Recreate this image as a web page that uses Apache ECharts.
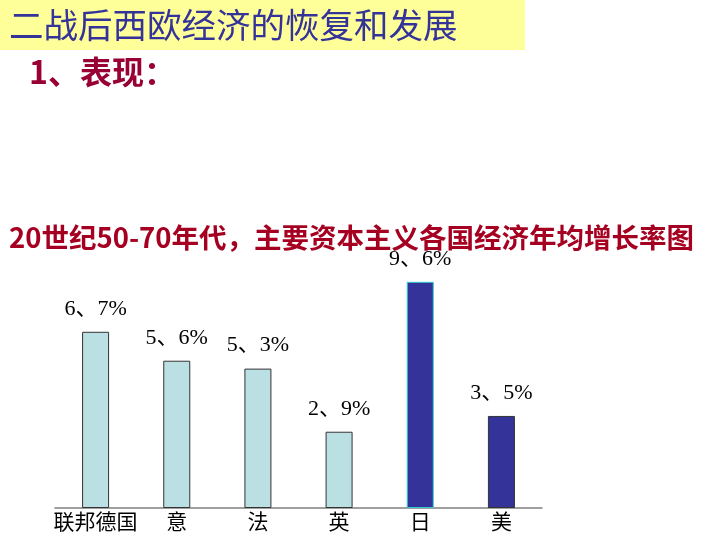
<!DOCTYPE html>
<html>
<head>
<meta charset="utf-8">
<script src="https://cdn.jsdelivr.net/npm/echarts@6/dist/echarts.min.js"></script>
<style>
  html, body { margin: 0; padding: 0; background: #fff; }
  #main { width: 720px; height: 540px; }
</style>
</head>
<body>
<div id="main"></div>
<script>
var countries = ['联邦德国', '意', '法', '英', '日', '美'];
// bar heights as drawn on the slide (日 is drawn shorter than its label)
var barHeights = [6.7, 5.6, 5.3, 2.9, 8.6, 3.5];
var rateLabels = ['6、7%', '5、6%', '5、3%', '2、9%', '9、6%', '3、5%'];
var darkCountries = ['日', '美'];

var cjk = '"Noto Sans CJK SC", sans-serif';
var serif = '"Liberation Serif", "Noto Sans CJK SC", serif';

var chart = echarts.init(document.getElementById('main'));

var barData = barHeights.map(function (v, i) {
  var dark = darkCountries.indexOf(countries[i]) >= 0;
  return {
    value: v,
    itemStyle: {
      color: dark ? '#333399' : '#BBE0E3',
      borderColor: countries[i] === '日' ? '#33CCCC' : '#333333',
      borderWidth: 1
    }
  };
});

var option = {
  backgroundColor: '#ffffff',
  animation: false,
  graphic: [{
    type: 'rect',
    shape: { x: 0, y: 0, width: 525, height: 50 },
    style: { fill: '#FFFF99' },
    z: 0
  }],
  title: [{
    text: '二战后西欧经济的恢复和发展',
    left: 4, top: 3,
    textStyle: { fontFamily: cjk, fontSize: 34.5, fontWeight: 'normal', color: '#333399' }
  }, {
    text: '1、表现：',
    left: 24, top: 51,
    textStyle: { fontFamily: cjk, fontSize: 32, fontWeight: 'bold', color: '#990033' }
  }, {
    text: '20世纪50-70年代，主要资本主义各国经济年均增长率图',
    left: 4, top: 219,
    textStyle: { fontFamily: cjk, fontSize: 27.5, fontWeight: 'bold', color: '#A50021' }
  }],
  grid: { left: 55, right: 178, top: 245, bottom: 32 },
  xAxis: {
    type: 'category',
    data: countries,
    axisLine: { lineStyle: { color: '#808080', width: 1.5 } },
    axisTick: { show: false },
    axisLabel: { interval: 0, fontFamily: cjk, fontSize: 21, color: '#000', margin: 3 }
  },
  yAxis: {
    type: 'value', min: 0, max: 10,
    show: false
  },
  series: [{
    type: 'bar',
    data: barData,
    barWidth: 27,
    label: {
      show: true,
      position: 'top',
      distance: 12,
      fontFamily: serif,
      fontSize: 22,
      color: '#000',
      formatter: function (p) { return rateLabels[p.dataIndex]; }
    }
  }]
};
chart.setOption(option);
</script>
</body>
</html>
